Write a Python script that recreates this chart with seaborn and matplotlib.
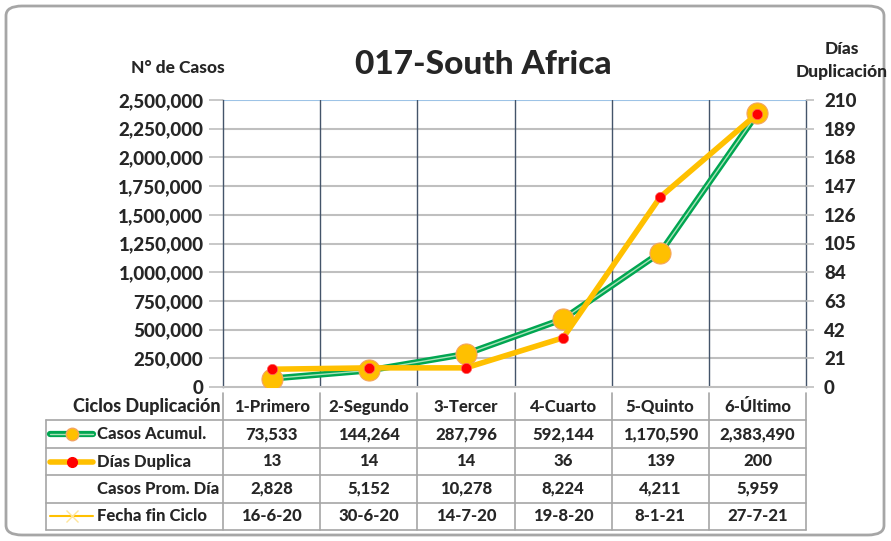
import matplotlib
matplotlib.use("Agg")
import matplotlib.pyplot as plt
import numpy as np
import pandas as pd
import seaborn as sns
from matplotlib.patches import FancyBboxPatch
from matplotlib.ticker import FuncFormatter

ciclos = ["1-Primero", "2-Segundo", "3-Tercer", "4-Cuarto", "5-Quinto", "6-Último"]
casos_acum = [73533, 144264, 287796, 592144, 1170590, 2383490]
dias_dup = [13, 14, 14, 36, 139, 200]
casos_prom = [2828, 5152, 10278, 8224, 4211, 5959]
fecha_fin = ["16-6-20", "30-6-20", "14-7-20", "19-8-20", "8-1-21", "27-7-21"]

GREEN = "#00A651"
LGREEN = "#A9E2B8"
GOLD = "#FFC000"
RED = "#FF0000"
VGRID = "#44546A"
HGRID = "#BFBFBF"
TGRID = "#A6A6A6"
WT = 900

sns.set_style("white")
plt.rcParams["font.family"] = ["Lato", "DejaVu Sans"]
plt.rcParams["font.weight"] = WT

df = pd.DataFrame({"x": np.arange(len(ciclos)), "casos": casos_acum, "dias": dias_dup})

W, H = 891, 541
fig = plt.figure(figsize=(W / 100, H / 100), dpi=100)

# outer frame
fig.patches.append(FancyBboxPatch((6 / W, 6 / H), 878 / W, 529 / H,
                                  boxstyle="round,pad=0,rounding_size=0.018",
                                  transform=fig.transFigure, fill=False,
                                  edgecolor="#A6A6A6", linewidth=2))

left, right, top, bottom = 223, 806, 100, 387
ax = fig.add_axes([left / W, 1 - bottom / H, (right - left) / W, (bottom - top) / H])

sns.lineplot(data=df, x="x", y="casos", ax=ax, color=GREEN, linewidth=4.5, zorder=3)
sns.lineplot(data=df, x="x", y="casos", ax=ax, color=LGREEN, linewidth=1, zorder=4)
sns.scatterplot(data=df, x="x", y="casos", ax=ax, color=GOLD, s=230,
                edgecolor="#F4A460", linewidth=0.8, zorder=5)

ax.set_xlim(-0.5, 5.5)
ax.set_ylim(0, 2500000)
ax.set_yticks(np.arange(0, 2500001, 250000))
ax.yaxis.set_major_formatter(FuncFormatter(lambda v, p: f"{int(v):,}"))
ax.set_xticks(np.arange(0.5, 5.5, 1))
ax.set_xticklabels([])
ax.tick_params(axis="x", length=0)
ax.tick_params(axis="y", length=10, width=1.2, color=HGRID, labelsize=13.5, pad=4)
for yv in np.arange(250000, 2500001, 250000):
    ax.axhline(yv, color=HGRID if yv < 2500000 else "#9DC3E6", linewidth=1.5, zorder=1)
for xv in np.arange(0.5, 5.5, 1):
    ax.axvline(xv, color=VGRID, linewidth=1, zorder=1)
ax.set_xlabel("")
ax.set_ylabel("")
for s in ["left", "right"]:
    ax.spines[s].set_color(VGRID)
    ax.spines[s].set_linewidth(1)
ax.spines["top"].set_visible(False)
ax.spines["bottom"].set_color(HGRID)
ax.spines["bottom"].set_linewidth(1.5)

ax2 = ax.twinx()
sns.lineplot(data=df, x="x", y="dias", ax=ax2, color=GOLD, linewidth=4, zorder=3)
sns.scatterplot(data=df, x="x", y="dias", ax=ax2, color=RED, s=55,
                edgecolor="#FF6060", linewidth=0.5, zorder=4)
ax2.set_ylim(0, 210)
ax2.set_yticks(np.arange(0, 211, 21))
ax2.tick_params(axis="y", length=6, width=1.2, color=HGRID, labelsize=13.5, pad=7)
ax2.set_ylabel("")
for s in ax2.spines.values():
    s.set_visible(False)

fig.text(483 / W, 1 - 65 / H, "017-South Africa", ha="center", va="center",
         fontsize=24, fontweight=WT)
fig.text(178 / W, 1 - 68 / H, "N° de Casos", ha="center", va="center",
         fontsize=12.5, fontweight=WT)
fig.text(842 / W, 1 - 49 / H, "Días", ha="center", va="center",
         fontsize=12.5, fontweight=WT)
fig.text(842 / W, 1 - 72 / H, "Duplicación", ha="center", va="center",
         fontsize=12.5, fontweight=WT)

# data table under the chart
colw = (right - left) / 6
t_left, t_top, t_bot = 46, 393, 530
tax = fig.add_axes([t_left / W, 1 - t_bot / H, (right - t_left) / W, (t_bot - t_top) / H])
x0 = -(left - t_left) / colw
tax.set_xlim(x0, 6)
tax.set_ylim(5, 0)
tax.axis("off")

for yv in range(1, 6):
    tax.plot([x0, 6], [yv, yv], color=TGRID, linewidth=1.2, clip_on=False)
tax.plot([x0, x0], [1, 5], color=TGRID, linewidth=1.2, clip_on=False)
for xv in range(0, 7):
    tax.plot([xv, xv], [0, 5], color=TGRID, linewidth=1.2, clip_on=False)

fs = 12
tax.text(-0.02, 0.5, "Ciclos Duplicación", ha="right", va="center", fontsize=13, fontweight=WT)
rows = [
    [f"{v:,}" for v in casos_acum],
    [str(v) for v in dias_dup],
    [f"{v:,}" for v in casos_prom],
    fecha_fin,
]
labels = ["Casos Acumul.", "Días Duplica", "Casos Prom. Día", "Fecha fin Ciclo"]
for i, c in enumerate(ciclos):
    tax.text(i + 0.5, 0.5, c, ha="center", va="center", fontsize=fs, fontweight=WT)
    for r, vals in enumerate(rows):
        tax.text(i + 0.5, r + 1.5, vals[i], ha="center", va="center", fontsize=fs, fontweight=WT)

lx = -(left - 97) / colw
for r, lab in enumerate(labels):
    tax.text(lx, r + 1.5, lab, ha="left", va="center", fontsize=fs, fontweight=WT)

k0, k1 = -(left - 50) / colw, -(left - 93) / colw
km = (k0 + k1) / 2
tax.plot([k0, k1], [1.5, 1.5], color=GREEN, linewidth=4.5)
tax.plot([k0, k1], [1.5, 1.5], color=LGREEN, linewidth=1)
tax.plot([km], [1.5], "o", color=GOLD, markersize=9, markeredgecolor="#F4A460")
tax.plot([k0, k1], [2.5, 2.5], color=GOLD, linewidth=4)
tax.plot([km], [2.5], "o", color=RED, markersize=7)
tax.plot([k0, k1], [4.5, 4.5], color=GOLD, linewidth=1.5)
tax.plot([km], [4.5], "x", color="#FFE699", markersize=8)

fig.savefig("out.png", dpi=100)
